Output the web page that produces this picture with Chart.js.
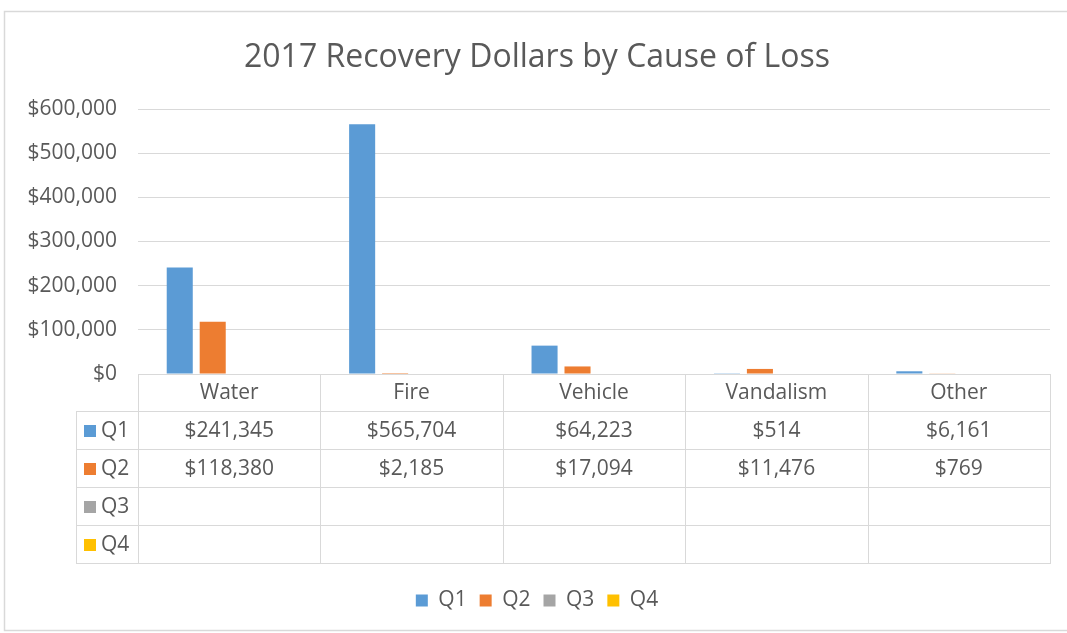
<!DOCTYPE html>
<html><head><meta charset="utf-8">
<script src="https://cdn.jsdelivr.net/npm/chart.js@4.4.0/dist/chart.umd.min.js"></script>
<style>html,body{margin:0;padding:0;background:#fff;} #wrap{width:1067px;height:633px;}</style>
</head><body><div id="wrap"><canvas id="c" width="1067" height="633"></canvas></div>
<script>
const titleText = '2017 Recovery Dollars by Cause of Loss';
const categories = ['Water', 'Fire', 'Vehicle', 'Vandalism', 'Other'];
const seriesNames = ['Q1', 'Q2', 'Q3', 'Q4'];
const q1 = [241345, 565704, 64223, 514, 6161];
const q2 = [118380, 2185, 17094, 11476, 769];
const q3 = [null, null, null, null, null];
const q4 = [null, null, null, null, null];
const seriesValues = [q1, q2, q3, q4];
const seriesColors = ['#5B9BD5', '#ED7D31', '#A5A5A5', '#FFC000'];
const yMin = 0, yMax = 600000, yStep = 100000;

const TEXT = '#595959';
const LINE = '#d9d9d9';
const FONT = '"Open Sans", "Noto Sans", sans-serif';

function money(v) {
  const s = String(Math.round(v)).replace(/\B(?=(\d{3})+(?!\d))/g, ',');
  return '$' + s;
}

const frameAndTable = {
  id: 'frameAndTable',
  beforeDraw(chart) {
    const ctx = chart.ctx;
    ctx.save();
    ctx.fillStyle = '#ffffff';
    ctx.fillRect(0, 0, chart.width, chart.height);
    ctx.strokeStyle = LINE;
    ctx.lineWidth = 1.5;
    ctx.strokeRect(4.5, 11.5, chart.width + 10, 619);
    ctx.restore();
  },
  afterDraw(chart) {
    const ctx = chart.ctx;
    const a = chart.chartArea;
    const x = chart.scales.x;
    const n = categories.length;
    const colW = (a.right - a.left) / n;
    const rowH = [37, 38, 38, 38, 38];
    const ys = [Math.round(a.bottom)];
    rowH.forEach(h => ys.push(ys[ys.length - 1] + h));
    const labelLeft = 76;
    const L = Math.round(a.left), R = Math.round(a.right);
    ctx.save();
    ctx.strokeStyle = LINE;
    ctx.lineWidth = 1;
    ctx.beginPath();
    ctx.moveTo(L, ys[0] + 0.5); ctx.lineTo(R, ys[0] + 0.5);
    for (let r = 1; r < ys.length; r++) {
      ctx.moveTo(labelLeft, ys[r] + 0.5); ctx.lineTo(R, ys[r] + 0.5);
    }
    for (let i = 0; i <= n; i++) {
      const xx = Math.round(a.left + i * colW) + 0.5;
      ctx.moveTo(xx, ys[0]); ctx.lineTo(xx, ys[ys.length - 1] + 1);
    }
    ctx.moveTo(labelLeft + 0.5, ys[1]); ctx.lineTo(labelLeft + 0.5, ys[ys.length - 1] + 1);
    ctx.stroke();

    ctx.font = '21px ' + FONT;
    ctx.fillStyle = TEXT;
    ctx.textAlign = 'center';
    ctx.textBaseline = 'middle';
    categories.forEach((c, i) => {
      ctx.fillText(c, x.getPixelForValue(i), (ys[0] + ys[1]) / 2 + 1);
    });
    seriesNames.forEach((s, r) => {
      const cy = (ys[r + 1] + ys[r + 2]) / 2 + 1;
      ctx.fillStyle = seriesColors[r];
      ctx.fillRect(84, Math.round(cy - 6), 12, 12);
      ctx.fillStyle = TEXT;
      ctx.textAlign = 'left';
      ctx.fillText(s, 101, cy);
      ctx.textAlign = 'center';
      seriesValues[r].forEach((v, i) => {
        if (v !== null && v !== undefined) ctx.fillText(money(v), x.getPixelForValue(i), cy);
      });
    });
    ctx.restore();
  }
};

const datasets = seriesNames.map((name, i) => ({
  label: name,
  data: seriesValues[i],
  backgroundColor: seriesColors[i],
  borderWidth: 0,
  categoryPercentage: 0.723,
  barPercentage: 0.79
}));

new Chart(document.getElementById('c'), {
  type: 'bar',
  data: { labels: categories, datasets },
  plugins: [frameAndTable],
  options: {
    responsive: false,
    animation: false,
    devicePixelRatio: 1,
    layout: { padding: { top: 11, left: 24, right: 17, bottom: 12 } },
    plugins: {
      title: {
        display: true,
        text: titleText,
        color: TEXT,
        font: { family: FONT, size: 32, weight: 'normal' },
        padding: { top: 28, bottom: 31.6 }
      },
      legend: {
        display: true,
        position: 'bottom',
        labels: {
          color: TEXT,
          font: { family: FONT, size: 21 },
          boxWidth: 12,
          boxHeight: 12,
          padding: 13
        }
      },
      tooltip: { enabled: false }
    },
    scales: {
      x: {
        display: true,
        ticks: { display: false },
        grid: { display: false },
        border: { display: false },
        afterFit(scale) { scale.height = 203; }
      },
      y: {
        min: yMin,
        max: yMax,
        ticks: {
          stepSize: yStep,
          color: TEXT,
          font: { family: FONT, size: 21 },
          padding: 21,
          callback: v => money(v)
        },
        grid: { color: LINE, drawTicks: false },
        border: { display: false },
        afterFit(scale) { scale.width = 114; }
      }
    }
  }
});
</script>
</body></html>
